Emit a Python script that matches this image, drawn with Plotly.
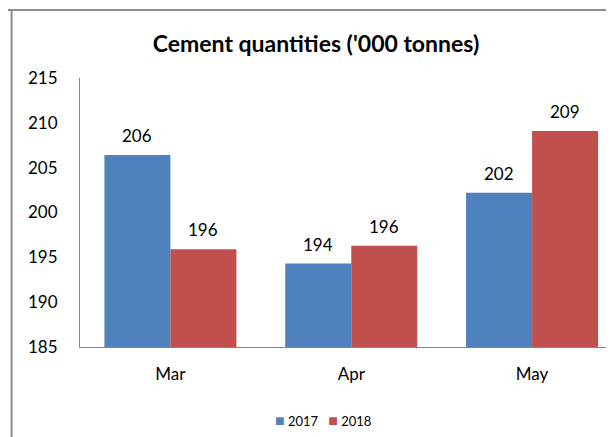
import plotly.graph_objects as go

months = ["Mar", "Apr", "May"]
qty_2017 = [206.4, 194.3, 202.2]
qty_2018 = [195.9, 196.3, 209.1]
series = [("2017", qty_2017, "#4F81BD"), ("2018", qty_2018, "#C0504D")]

FONT = "Lato, 'Open Sans', sans-serif"
PAGE_W, PAGE_H = 614, 437
OFF = 8                      # default body margin of the html page
W, H = PAGE_W - OFF, PAGE_H - OFF
L, T, B = 79.5 - OFF, 78 - OFF, 90   # plot area in figure pixels


def px_x(x):
    # page pixel -> paper coordinate
    return (x - OFF - L) / (W - L)


def px_y(y):
    return (H - B - (y - OFF)) / (H - B - T)


fig = go.Figure()
for name, vals, color in series:
    fig.add_trace(go.Bar(x=months, y=vals, name=name, marker_color=color,
                         marker_line_width=0))

# value labels above each bar
for i, m in enumerate(months):
    for j, (name, vals, color) in enumerate(series):
        fig.add_annotation(x=m, y=vals[i], text=f"{vals[i]:.0f}",
                           xshift=-33 if j == 0 else 33, yshift=7,
                           yanchor="bottom", showarrow=False,
                           font=dict(size=17, color="#000000", family=FONT))

# legend drawn as text so the swatches sit close to the labels
legend_text = "   ".join(
    f"<span style='color:{color};font-size:16px'>■</span> {name}"
    for name, vals, color in series)
fig.add_annotation(xref="paper", yref="paper", x=px_x(323), y=px_y(419),
                   xanchor="center", yanchor="middle", showarrow=False,
                   text=legend_text, font=dict(size=13, family=FONT))

fig.update_layout(
    width=W, height=H,
    margin=dict(l=L, r=0, t=T, b=B, autoexpand=False),
    paper_bgcolor="white", plot_bgcolor="white",
    barmode="group", bargap=0.27, bargroupgap=0,
    font=dict(family=FONT, color="#000000"),
    title=dict(text="<b>Cement quantities ('000 tonnes)</b>",
               x=(316 - OFF) / W, xanchor="center",
               y=1 - (44 - OFF) / H, yanchor="middle",
               font=dict(size=23, family=FONT, color="#000000")),
    showlegend=False,
)
fig.update_xaxes(range=[-0.5, 2.5 - 8.5 / 181], showline=True,
                 linecolor="#868686", linewidth=1, showgrid=False,
                 ticks="", tickfont=dict(size=17), ticklabelstandoff=12)
fig.update_yaxes(range=[185, 215], dtick=5, showline=True,
                 linecolor="#868686", linewidth=1, showgrid=False,
                 zeroline=False, ticks="", tickfont=dict(size=17),
                 ticklabelstandoff=18)

# frame lines from the surrounding document
fig.add_shape(type="line", xref="paper", yref="paper",
              x0=px_x(0), x1=px_x(PAGE_W), y0=px_y(10), y1=px_y(10),
              line=dict(color="#8c8c8c", width=2))
fig.add_shape(type="line", xref="paper", yref="paper",
              x0=px_x(11), x1=px_x(11), y0=px_y(9), y1=px_y(PAGE_H),
              line=dict(color="#8c8c8c", width=2))

fig.write_html("out.html")
